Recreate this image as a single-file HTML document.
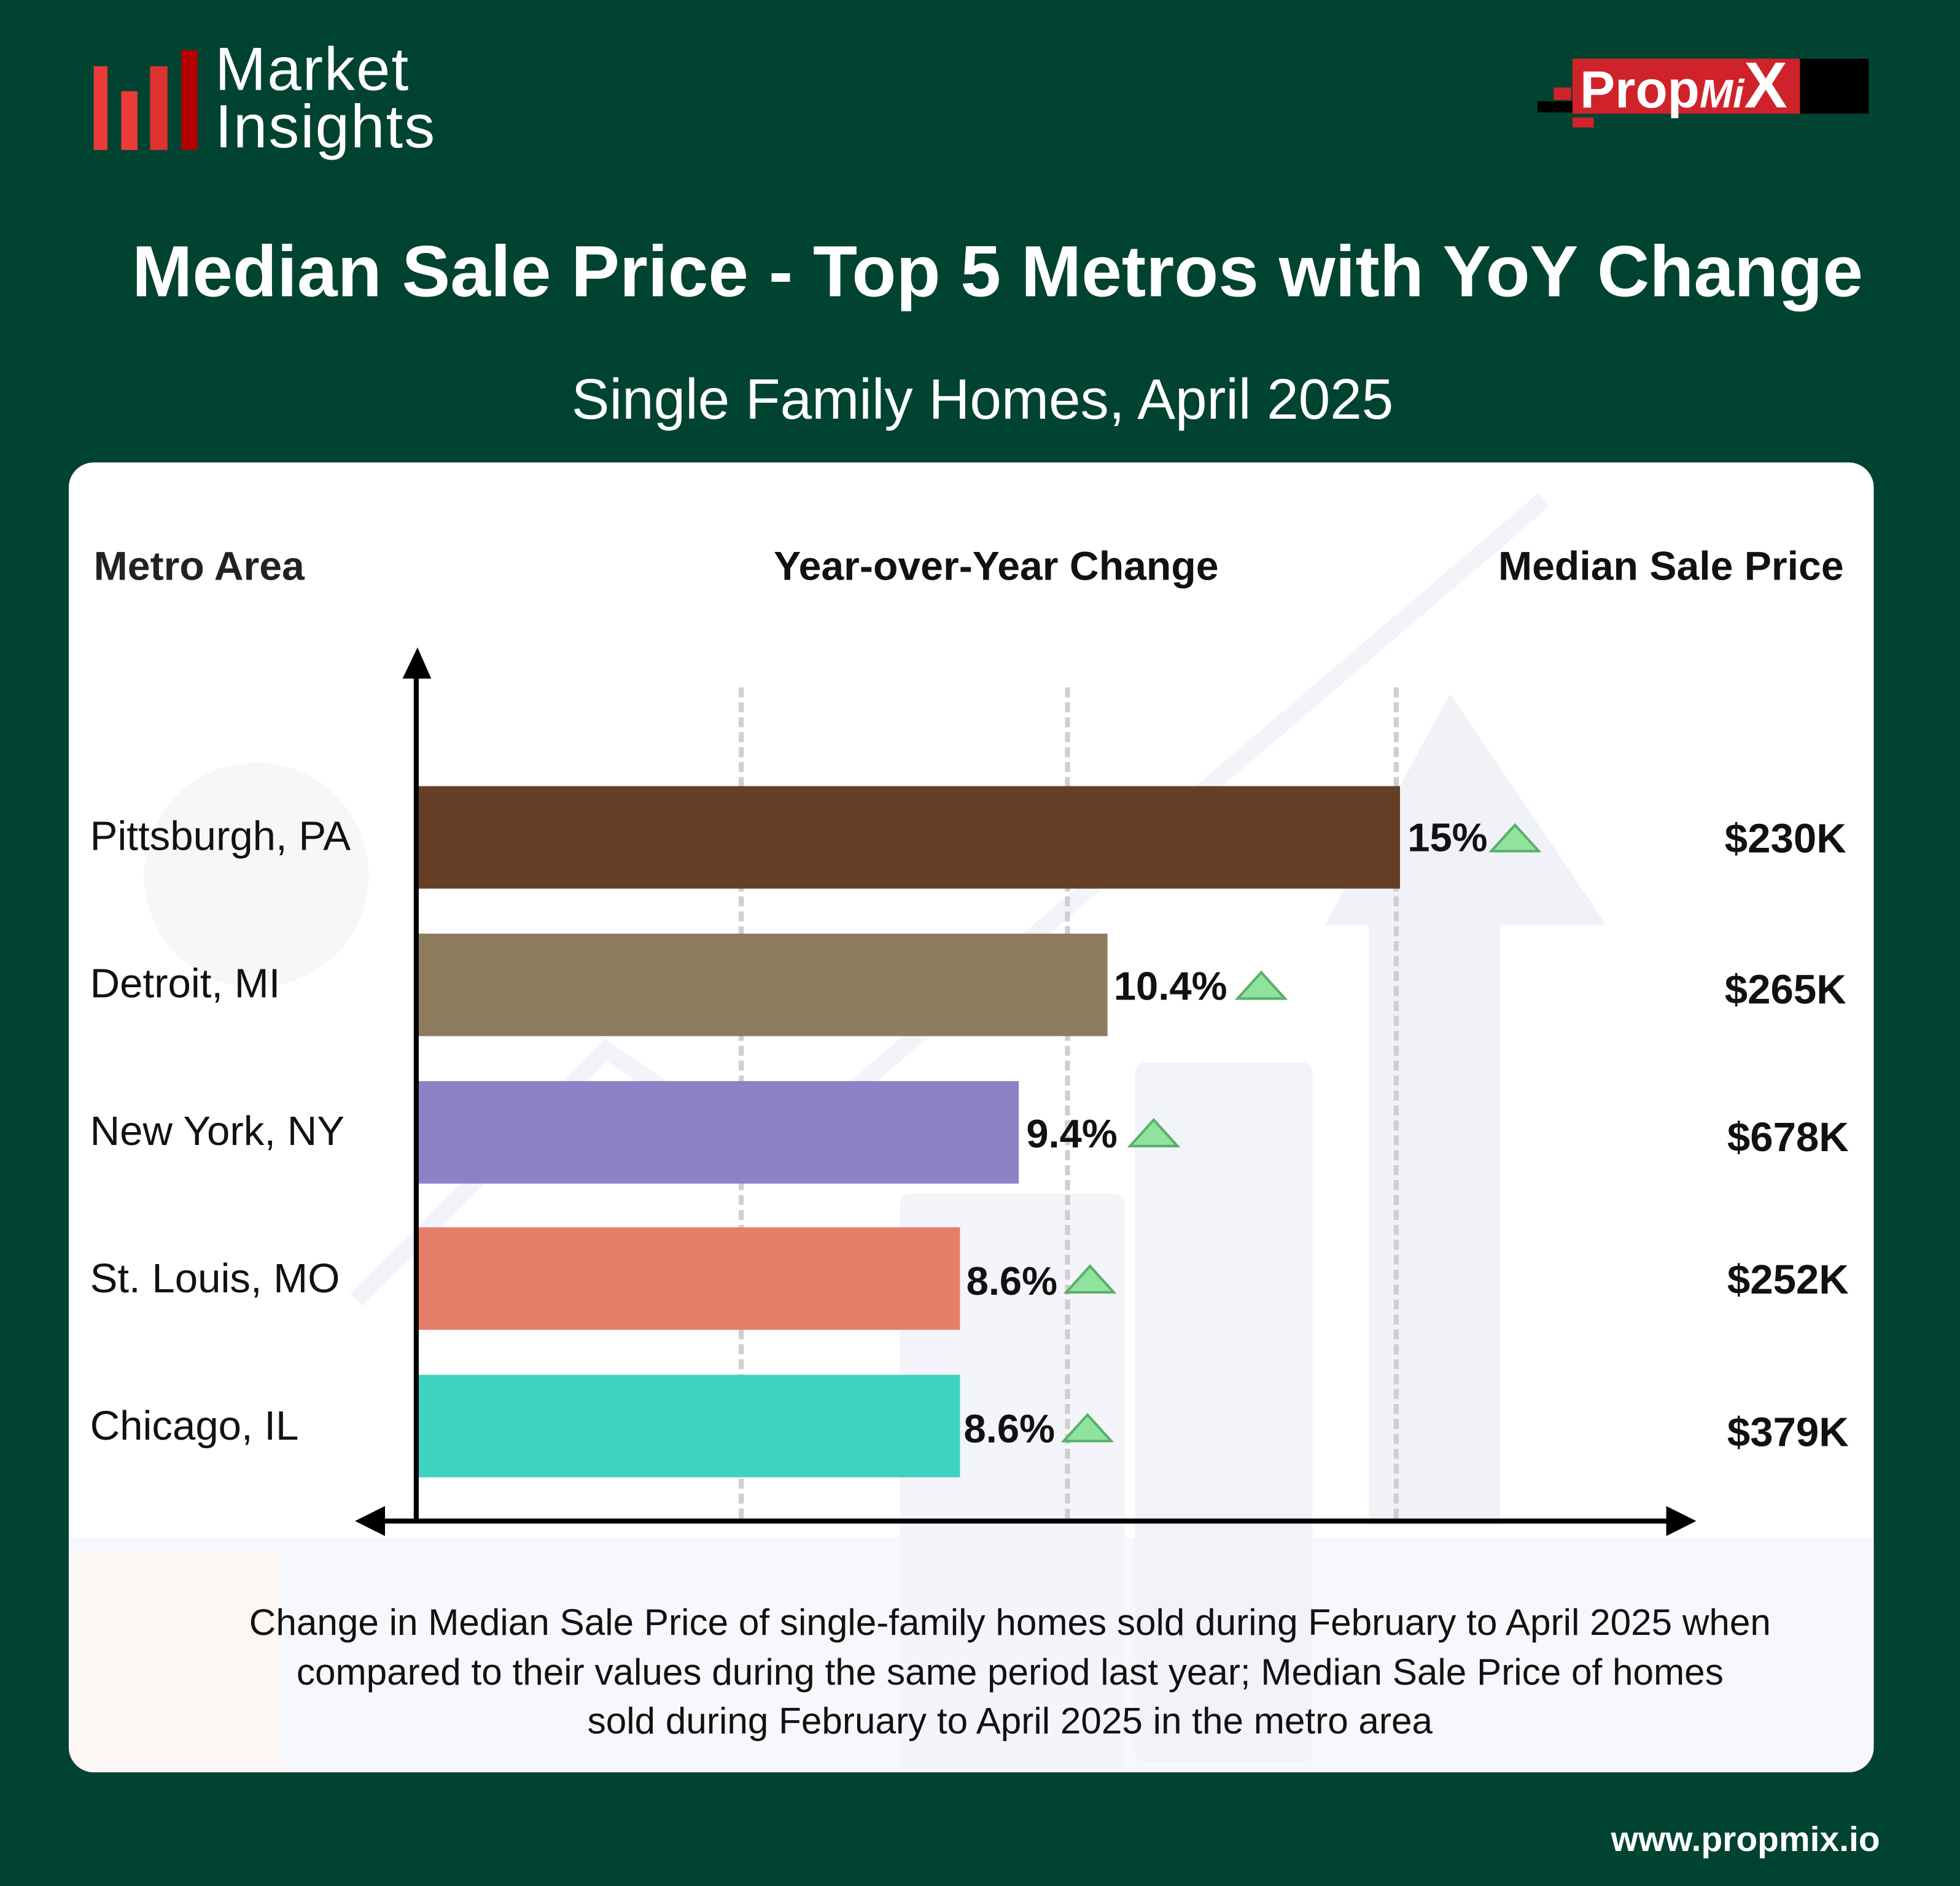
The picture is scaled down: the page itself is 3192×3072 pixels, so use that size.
<!DOCTYPE html>
<html><head><meta charset="utf-8"><style>
html,body{margin:0;padding:0;background:#014331;}
#wrap{width:3192px;height:3072px;overflow:hidden;position:relative;background:#014331;}
#s{position:absolute;left:0;top:0;width:1568px;height:1509px;transform:scale(2.03571,2.03578);transform-origin:0 0;font-family:"Liberation Sans",sans-serif;}
.a{position:absolute;white-space:nowrap;}
.card{position:absolute;left:55px;top:370px;width:1444px;height:1048px;background:#fff;border-radius:20px;overflow:hidden;}
.bar{position:absolute;left:335px;height:82px;}
.lbl{position:absolute;font-weight:bold;font-size:32px;color:#111;line-height:30px;}
.city{position:absolute;left:72px;font-size:33px;color:#111;line-height:30px;}
.price{position:absolute;right:91px;font-weight:bold;font-size:33px;color:#111;line-height:30px;}
.grid{position:absolute;top:550px;height:665px;border-left:4px dashed #cfcfcf;}
</style></head><body><div id="wrap"><div id="s">
<div class="a" style="left:75px;top:53px;width:11px;height:67px;background:#ec3b3b"></div>
<div class="a" style="left:97px;top:73px;width:13px;height:47px;background:#ec3b3b"></div>
<div class="a" style="left:120px;top:53px;width:14px;height:67px;background:#de3232"></div>
<div class="a" style="left:145px;top:40px;width:13px;height:80px;background:#b30000"></div>
<div class="a" style="left:172px;top:32px;font-size:49px;color:#fff;line-height:48px;letter-spacing:1px;">Market</div>
<div class="a" style="left:172px;top:78px;font-size:49px;color:#fff;line-height:48px;letter-spacing:1px;">Insights</div>
<div class="a" style="left:1230px;top:81px;width:28px;height:9px;background:#000"></div>
<div class="a" style="left:1243px;top:70px;width:14px;height:10px;background:#d0222a"></div>
<div class="a" style="left:1258px;top:94px;width:17px;height:8px;background:#d0222a"></div>
<div class="a" style="left:1258px;top:47px;width:182px;height:44px;background:#d0222a"></div>
<div class="a" style="left:1440px;top:47px;width:55px;height:44px;background:#000"></div>
<div class="a" style="left:1264px;top:45px;font-size:42px;font-weight:bold;color:#fff;line-height:48px;">Prop<i style="font-size:32px">Mi</i><span style="font-size:52px">X</span></div>
<div class="a" style="left:0;width:1596px;text-align:center;top:185px;font-size:58px;font-weight:bold;color:#fff;line-height:66px;">Median Sale Price - Top 5 Metros with YoY Change</div>
<div class="a" style="left:0;width:1572px;text-align:center;top:295px;font-size:45.5px;color:#fff;line-height:50px;">Single Family Homes, April 2025</div>
<div class="card">
 <svg width="1444" height="1048" style="position:absolute;left:0;top:0">
  <rect x="0" y="860" width="1444" height="188" fill="#f7f8fc"/>
  <rect x="853" y="480" width="142" height="560" rx="8" fill="#f1f3f9"/>
  <rect x="665" y="585" width="180" height="460" rx="8" fill="#f3f5fa"/>
  <polygon points="1040,850 1040,370 1005,370 1105,185 1230,370 1145,370 1145,850" fill="#f0f2f8"/>
  <polyline points="230,670 430,470 560,560 1180,30" stroke="#f2f4f9" stroke-width="14" fill="none"/>
  <circle cx="150" cy="330" r="90" fill="#f6f8f7"/>
  <rect x="0" y="870" width="170" height="178" fill="#fcf6f5"/>
 </svg>
</div>
<div class="a" style="left:75px;top:435px;font-size:32.5px;font-weight:bold;color:#222;">Metro Area</div>
<div class="a" style="left:619px;top:435px;font-size:32.5px;font-weight:bold;color:#111;">Year-over-Year Change</div>
<div class="a" style="right:93px;top:435px;font-size:32.5px;font-weight:bold;color:#111;">Median Sale Price</div>
<div class="grid" style="left:591px"></div>
<div class="grid" style="left:852px"></div>
<div class="grid" style="left:1115px"></div>
<div class="bar" style="top:629px;width:785px;background:#643f26"></div>
<div class="bar" style="top:747px;width:551px;background:#8e7c5e"></div>
<div class="bar" style="top:865px;width:480px;background:#8c83c6"></div>
<div class="bar" style="top:982px;width:433px;background:#e57f6a"></div>
<div class="bar" style="top:1100px;width:433px;background:#3ed3bf"></div>
<svg class="a" style="left:0;top:0" width="1568" height="1509">
 <line x1="333" y1="535" x2="333" y2="1217" stroke="#000" stroke-width="4"/>
 <polygon points="322,543 345,543 334,518" fill="#000"/>
 <line x1="300" y1="1217" x2="1345" y2="1217" stroke="#000" stroke-width="4"/>
 <polygon points="284,1217 308,1205 308,1229" fill="#000"/>
 <polygon points="1357,1217 1333,1205 1333,1229" fill="#000"/>
 <g fill="#8fe39c" stroke="#5aae6a" stroke-width="2">
  <polygon points="1193,681 1231,681 1212,660"/>
  <polygon points="990,799 1028,799 1009,778"/>
  <polygon points="904,917 942,917 923,896"/>
  <polygon points="853,1034 891,1034 872,1013"/>
  <polygon points="851,1153 889,1153 870,1132"/>
 </g>
</svg>
<div class="lbl" style="left:1126px;top:655px">15%</div>
<div class="lbl" style="left:891px;top:774px">10.4%</div>
<div class="lbl" style="left:821px;top:892px">9.4%</div>
<div class="lbl" style="left:773px;top:1010px">8.6%</div>
<div class="lbl" style="left:771px;top:1128px">8.6%</div>
<div class="city" style="top:654px">Pittsburgh, PA</div>
<div class="city" style="top:772px">Detroit, MI</div>
<div class="city" style="top:890px">New York, NY</div>
<div class="city" style="top:1008px">St. Louis, MO</div>
<div class="city" style="top:1126px">Chicago, IL</div>
<div class="price" style="top:656px">$230K</div>
<div class="price" style="top:777px">$265K</div>
<div class="price" style="top:895px;right:89px">$678K</div>
<div class="price" style="top:1009px;right:89px">$252K</div>
<div class="price" style="top:1131px;right:89px">$379K</div>
<div class="a" style="left:0;width:1616px;text-align:center;top:1279px;font-size:29.6px;color:#111;line-height:39.5px;">Change in Median Sale Price of single-family homes sold during February to April 2025 when<br>compared to their values during the same period last year; Median Sale Price of homes<br>sold during February to April 2025 in the metro area</div>
<div class="a" style="right:64px;top:1456px;font-size:28px;font-weight:bold;color:#fff;">www.propmix.io</div>
</div></div></body></html>
